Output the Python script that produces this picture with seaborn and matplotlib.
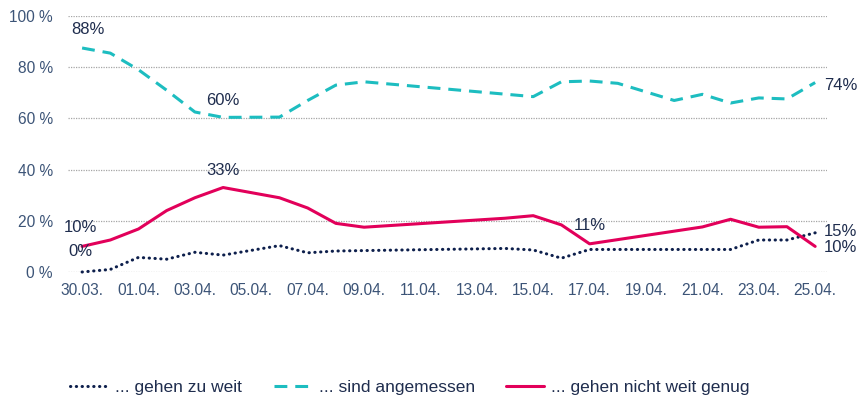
import matplotlib
matplotlib.use("Agg")
import matplotlib.pyplot as plt
import matplotlib.dates as mdates
import seaborn as sns
import pandas as pd

# Daten (Anteile in %)
zu_weit_tage = ["2020-03-30", "2020-03-31", "2020-04-01", "2020-04-02", "2020-04-03",
                "2020-04-04", "2020-04-06", "2020-04-07", "2020-04-08", "2020-04-14",
                "2020-04-15", "2020-04-16", "2020-04-17", "2020-04-22", "2020-04-23",
                "2020-04-24", "2020-04-25"]
zu_weit = [0, 1, 5.7, 5, 7.7, 6.6, 10.3, 7.5, 8.2, 9.2, 8.6, 5.4, 8.8, 8.8, 12.5, 12.5, 15.3]

angemessen_tage = ["2020-03-30", "2020-03-31", "2020-04-01", "2020-04-02", "2020-04-03",
                   "2020-04-04", "2020-04-06", "2020-04-07", "2020-04-08", "2020-04-09",
                   "2020-04-15", "2020-04-16", "2020-04-17", "2020-04-18", "2020-04-20",
                   "2020-04-21", "2020-04-22", "2020-04-23", "2020-04-24", "2020-04-25"]
angemessen = [87.5, 85.5, 79, 71, 62.5, 60.4, 60.5, 67, 73, 74.3,
              68.5, 74.3, 74.6, 73.7, 67, 69.4, 66, 68, 67.6, 74]

nicht_genug_tage = ["2020-03-30", "2020-03-31", "2020-04-01", "2020-04-02", "2020-04-03",
                    "2020-04-04", "2020-04-06", "2020-04-07", "2020-04-08", "2020-04-09",
                    "2020-04-14", "2020-04-15", "2020-04-16", "2020-04-17", "2020-04-21",
                    "2020-04-22", "2020-04-23", "2020-04-24", "2020-04-25"]
nicht_genug = [10, 12.5, 16.8, 24, 29, 33, 29, 25, 19, 17.5,
               21, 22, 18.4, 11, 17.6, 20.6, 17.5, 17.7, 10]

labels = ["... gehen zu weit", "... sind angemessen", "... gehen nicht weit genug"]
farben = ["#0D1F4C", "#1DBDC0", "#E2005A"]

# Beschriftungen: (Serie, Datum, Text, dx, dy, ha)
beschriftungen = [
    (1, "2020-03-30", "88%", 6, 18, "center"),
    (1, "2020-04-04", "60%", 0, 17, "center"),
    (2, "2020-04-04", "33%", 0, 17, "center"),
    (2, "2020-03-30", "10%", -2, 19, "center"),
    (0, "2020-03-30", "0%", -2, 20, "center"),
    (2, "2020-04-17", "11%", 0, 18, "center"),
    (1, "2020-04-25", "74%", 9, -3, "left"),
    (0, "2020-04-25", "15%", 9, 1, "left"),
    (2, "2020-04-25", "10%", 9, -1, "left"),
]

sns.set_theme(style="white")
plt.rcParams["font.family"] = ["Liberation Sans", "DejaVu Sans"]

serien = [
    pd.DataFrame({"datum": pd.to_datetime(zu_weit_tage), "wert": zu_weit}),
    pd.DataFrame({"datum": pd.to_datetime(angemessen_tage), "wert": angemessen}),
    pd.DataFrame({"datum": pd.to_datetime(nicht_genug_tage), "wert": nicht_genug}),
]

fig = plt.figure(figsize=(8.59, 4.03), dpi=100)
ax = fig.add_axes([68 / 859, 131 / 403, 759 / 859, 256 / 403])

stile = [dict(linestyle=(0, (0.1, 1.8)), dash_capstyle="round", linewidth=2.2),
         dict(linestyle=(0, (4.2, 2.6)), linewidth=2.2),
         dict(linestyle="-", linewidth=2.2)]

for df, lab, col, st in zip(serien, labels, farben, stile):
    sns.lineplot(data=df, x="datum", y="wert", ax=ax, color=col, label=lab,
                 clip_on=False, **st)

for s, tag, txt, dx, dy, ha in beschriftungen:
    df = serien[s]
    y = df.loc[df["datum"] == pd.Timestamp(tag), "wert"].iloc[0]
    ax.annotate(txt, (pd.Timestamp(tag), y), xytext=(dx, dy), textcoords="offset pixels",
                ha=ha, va="center", fontsize=12, color="#1F2D4E")

start = pd.Timestamp("2020-03-30")
ax.set_xlim(start - pd.Timedelta(hours=12), start + pd.Timedelta(days=26.42))
ax.set_ylim(0, 100)
ax.set_yticks(range(0, 101, 20))
ax.set_yticklabels([f"{v} %" for v in range(0, 101, 20)])
ax.set_xticks(pd.date_range(start, periods=14, freq="2D"))
ax.xaxis.set_major_formatter(mdates.DateFormatter("%d.%m."))
ax.tick_params(axis="both", labelsize=11.2, colors="#3C5477", length=0)
ax.tick_params(axis="y", pad=11)
ax.tick_params(axis="x", pad=8)
ax.yaxis.grid(True, linestyle=(0, (1, 1)), color="#A6A6A6", linewidth=0.9)
ax.set_axisbelow(True)
for sp in ax.spines.values():
    sp.set_visible(False)
ax.set_xlabel("")
ax.set_ylabel("")

ax.get_legend().remove()
h, l = ax.get_legend_handles_labels()
fig.legend(h, l, loc="center", bbox_to_anchor=(410 / 859, 16 / 403), ncol=3,
           frameon=False, fontsize=12.5, handlelength=2.2, columnspacing=1.8,
           handletextpad=0.4, labelcolor="#1F2D4E")

fig.savefig("out.png", dpi=100)
